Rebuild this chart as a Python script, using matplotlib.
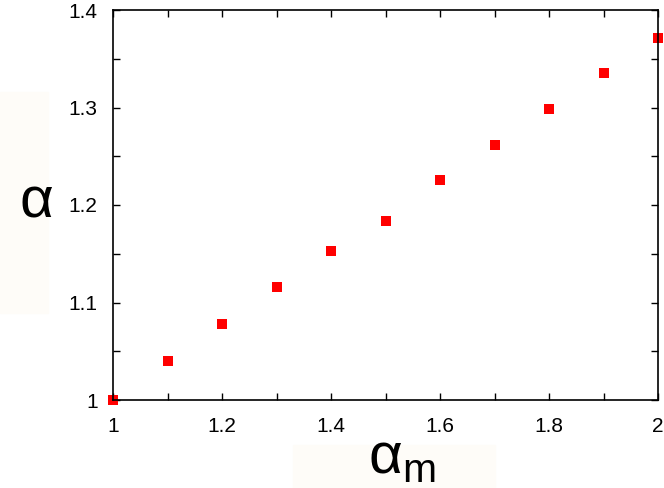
import numpy as np
import matplotlib.pyplot as plt
from matplotlib.patches import Rectangle
from matplotlib.ticker import MultipleLocator

alpha_m = [1.0, 1.1, 1.2, 1.3, 1.4, 1.5, 1.6, 1.7, 1.8, 1.9, 2.0]
alpha = [1.000, 1.040, 1.078, 1.116, 1.153, 1.184, 1.226, 1.262, 1.298, 1.335, 1.371]

plt.rcParams['font.family'] = ['Liberation Sans', 'DejaVu Sans']

fig = plt.figure(figsize=(6.64, 4.88), dpi=100)

# faint label backgrounds seen in the original
fig.patches.append(Rectangle((0, 1 - 313 / 488), 48 / 664, 221 / 488,
                             transform=fig.transFigure, color='#fefcf8', zorder=0))
fig.patches.append(Rectangle((293 / 664, 0), 202 / 664, 43 / 488,
                             transform=fig.transFigure, color='#fefcf8', zorder=0))

ax = fig.add_axes([113 / 664, 1 - 400 / 488, 545 / 664, 390 / 488])
ax.patch.set_alpha(0)
ax.plot(alpha_m, alpha, 's', color='#ff0000', markersize=7, markeredgewidth=0, clip_on=False)

ax.set_xlim(1, 2)
ax.set_ylim(1, 1.4)
ax.xaxis.set_major_locator(MultipleLocator(0.2))
ax.xaxis.set_minor_locator(MultipleLocator(0.1))
ax.yaxis.set_major_locator(MultipleLocator(0.1))
ax.yaxis.set_minor_locator(MultipleLocator(0.05))
ax.xaxis.set_major_formatter(plt.FuncFormatter(lambda v, p: f'{v:g}'))
ax.yaxis.set_major_formatter(plt.FuncFormatter(lambda v, p: f'{v:g}'))
ax.tick_params(which='both', direction='in', top=True, right=True, length=5, width=1,
               labelsize=15)
ax.tick_params(axis='x', pad=12)
ax.tick_params(axis='y', pad=11)
for s in ax.spines.values():
    s.set_linewidth(1.2)

fig.text(36 / 664, 1 - 217 / 488, 'α', fontsize=42, ha='center', va='baseline')
fig.text(402 / 664, 1 - 473 / 488, r'α$_{\mathregular{m}}$', fontsize=42, ha='center', va='baseline')

fig.savefig('out.png', dpi=100)
